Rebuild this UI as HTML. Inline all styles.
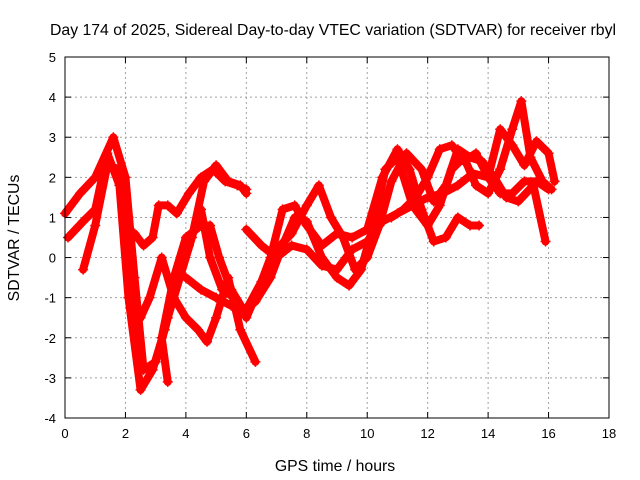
<!DOCTYPE html>
<html><head><meta charset="utf-8"><style>
body{margin:0;background:#fff}
svg{display:block;font-family:"Liberation Sans",Arial,sans-serif}
</style></head><body>
<svg id="chart" width="640" height="480">
<text x="333" y="35" text-anchor="middle" font-size="15.8">Day 174 of 2025, Sidereal Day-to-day VTEC variation (SDTVAR) for receiver rbyl</text>
<g id="grid"></g>
<g id="series"></g>
<rect x="65" y="57" width="544" height="361" fill="none" stroke="#000"/>
<g id="ticks"></g>
<text x="335" y="471" text-anchor="middle" font-size="15.8">GPS time / hours</text>
<text transform="translate(19,238) rotate(-90)" text-anchor="middle" font-size="15.8">SDTVAR / TECUs</text>
</svg>
<script>
const xTicks=[0,2,4,6,8,10,12,14,16,18];
const yTicks=[-4,-3,-2,-1,0,1,2,3,4,5];
const sAx=[0,0.5,1,1.6,2.0,2.3,2.6,3.0,3.4,3.8,4.2,4.6,5.0,5.4,5.8,6.0];
const sAy=[1.1,1.6,2.0,3.0,2.0,-0.5,-2.8,-2.6,-1.5,-0.5,0.5,1.9,2.3,1.9,1.8,1.6];
const sBx=[0.1,0.6,1.0,1.4,1.8,2.1,2.5,2.9,3.3,3.7,4.1,4.5,4.8,5.2,5.6,6.0,6.4,6.8,7.2,7.6,8.0,8.5,9.0,9.5,10.0,10.5,11.0,11.4,11.8,12.2,12.6,13.0,13.4,13.7];
const sBy=[0.5,0.9,1.2,2.6,1.8,-1.0,-3.3,-2.8,-1.8,-0.6,0.3,1.2,0.0,-0.8,-1.0,-1.5,-0.8,0,1.2,1.3,0.8,0.3,0.6,0.5,0.7,2.0,2.7,2.2,1.2,0.4,0.5,1.0,0.8,0.8];
const sCx=[0.6,1.0,1.4,1.8,2.1,2.3,2.5,2.8,3.2,3.6,4.0,4.4,4.7,5.0,5.4,5.8,6.3];
const sCy=[-0.3,0.8,2.3,2.2,1.0,-1.5,-1.5,-1.0,0,-1.0,-1.5,-1.8,-2.1,-1.5,-0.5,-1.8,-2.6];
const sEx=[2.3,2.6,2.9,3.1,3.4,3.7,4.1,4.5,4.9,5.3,5.7,6.0];
const sEy=[0.6,0.3,0.5,1.3,1.3,1.1,1.6,2.0,2.2,1.9,1.8,1.7];
const sFx=[3.4,3.2,3.6,4.0,4.5,4.8,5.1,5.5,5.9,6.3,6.8,7.2,7.6,8.0,8.5,9.0,9.4,9.8,10.2,10.6,11.0,11.5,12.0,12.4,12.8,13.2,13.6,14.0,14.4,14.8,15.1,15.4,15.8,16.1];
const sFy=[-3.1,-2.0,-0.5,0.5,0.8,0.8,0,-0.8,-1.3,-1.1,-0.5,0.3,1.0,0.9,0,-0.5,-0.7,-0.3,0.8,2.2,2.5,1.3,0.8,1.3,2.2,2.5,1.8,1.6,2.2,3.2,3.9,2.5,1.9,1.7];
const sGx=[4.0,4.5,5.0,5.5,6.0,6.5,7.0,7.5,8.0,8.4,8.8,9.2,9.6,10.0,10.4,10.8,11.3,11.8,12.2,12.6,13.0,13.4,13.8,14.2,14.6,15.0,15.5,15.9];
const sGy=[-0.5,-0.8,-1.0,-1.2,-1.3,-0.6,0.2,0.6,1.3,1.8,1.0,0.5,-0.3,0,0.8,1.9,2.6,2.2,1.4,1.8,2.7,2.5,2.4,2.0,1.5,1.4,1.8,0.4];
const sHx=[6.0,6.5,7.0,7.5,8.0,8.5,9.0,9.5,10.0,10.5,11.0,11.5,12.0,12.5,13.0,13.5,14.0,14.4,14.8,15.2,15.6,16.0,16.2];
const sHy=[0.7,0.3,0,0.3,0.2,-0.2,-0.3,0.2,0.4,0.9,1.1,1.3,1.5,1.6,1.8,2.1,2.0,3.2,2.8,2.3,2.9,2.6,1.9];
const sIx=[10.8,11.2,11.6,12.0,12.4,12.8,13.2,13.6,14.0,14.4,14.8,15.2,15.6,16.0];
const sIy=[1.0,1.2,1.5,2.0,2.7,2.8,2.4,2.6,2.0,1.6,1.6,1.9,1.9,1.7];
const seriesX=[sAx,sBx,sCx,sEx,sFx,sGx,sHx,sIx];
const seriesY=[sAy,sBy,sCy,sEy,sFy,sGy,sHy,sIy];

const L=65,R=609,T=57,B=418;
const xs=v=>L+(v-0)/18*(R-L);
const ys=v=>B-(v+4)/9*(B-T);
const NS="http://www.w3.org/2000/svg";
const mk=(t,a)=>{const e=document.createElementNS(NS,t);for(const k in a)e.setAttribute(k,a[k]);return e;};
const grid=document.getElementById('grid'),ticks=document.getElementById('ticks'),ser=document.getElementById('series');
xTicks.forEach(v=>{
  const x=xs(v);
  if(v>0&&v<18){const g=mk('line',{x1:x,x2:x,y1:T,y2:B,stroke:'#a0a0a0','stroke-dasharray':'2,3'});
  
  grid.appendChild(g);}
  const t=mk('line',{x1:x,x2:x,y1:B,y2:B-6,stroke:'#000'});
  
  ticks.appendChild(t);
  const t2=mk('line',{x1:x,x2:x,y1:T,y2:T+6,stroke:'#000'});
  
  ticks.appendChild(t2);
  const l=mk('text',{x:x,y:B+20,'text-anchor':'middle','font-size':13});
  l.textContent=v;
  
  ticks.appendChild(l);
});
yTicks.forEach(v=>{
  const y=ys(v);
  if(v>-4&&v<5){const g=mk('line',{x1:L,x2:R,y1:y,y2:y,stroke:'#a0a0a0','stroke-dasharray':'2,3'});
  
  grid.appendChild(g);}
  const t=mk('line',{x1:L,x2:L+6,y1:y,y2:y,stroke:'#000'});
  
  ticks.appendChild(t);
  const t2=mk('line',{x1:R,x2:R-6,y1:y,y2:y,stroke:'#000'});
  
  ticks.appendChild(t2);
  const l=mk('text',{x:L-9,y:y+5,'text-anchor':'end','font-size':13});
  l.textContent=v;
  
  ticks.appendChild(l);
});
seriesX.forEach((X,i)=>{
  const Y=seriesY[i];
  const pts=X.map((x,j)=>xs(x)+','+ys(Y[j])).join(' ');
  const p=mk('polyline',{points:pts,fill:'none',stroke:'#ff0000','stroke-width':8,'stroke-linejoin':'round','stroke-linecap':'round'});
  
  
  ser.appendChild(p);
  X.forEach((x,j)=>{
    const cx=xs(x),cy=ys(Y[j]);
    const m=mk('path',{d:`M${cx-5},${cy}H${cx+5}M${cx},${cy-5}V${cy+5}`,stroke:'#ff0000','stroke-width':1.5});
    
    
    ser.appendChild(m);
  });
});
</script>
</body></html>
